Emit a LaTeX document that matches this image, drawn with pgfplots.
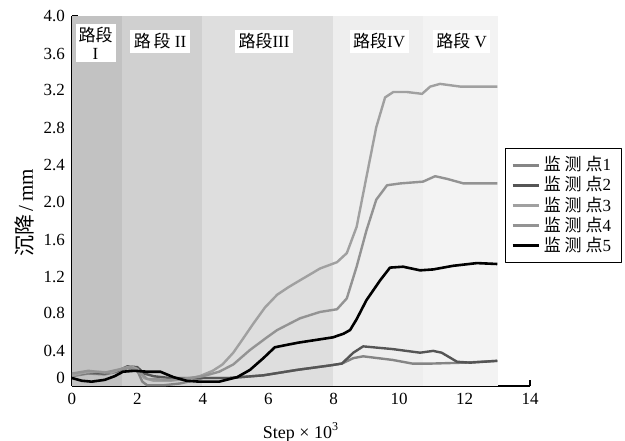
\documentclass[border=0pt]{standalone}
\usepackage{fontspec}
\setmainfont{Liberation Serif}
\newfontfamily\cjk{Noto Sans CJK SC}
\usepackage{pgfplots}
\pgfplotsset{compat=1.18}
\definecolor{bandA}{HTML}{C2C2C2}
\definecolor{bandB}{HTML}{D0D0D0}
\definecolor{bandC}{HTML}{DEDEDE}
\definecolor{bandD}{HTML}{EEEEEE}
\definecolor{bandE}{HTML}{F3F3F3}
\definecolor{cA}{HTML}{858585}
\definecolor{cB}{HTML}{555555}
\definecolor{cC}{HTML}{A0A0A0}
\definecolor{cD}{HTML}{939393}
\begin{document}
\begin{tikzpicture}
\begin{axis}[
  at={(0,0)}, anchor=south west,
  scale only axis, width=229pt, height=185pt,
  xmin=0, xmax=14, ymin=-0.088, ymax=4,
  axis lines=left, axis line style={-, line width=0.6pt},
  tick align=inside, major tick length=3pt,
  tick style={line width=0.6pt, black},
  xtick={0,2,...,14}, xticklabels={0,2,4,6,8,10,12,14},
  ytick={0,0.5,...,4}, yticklabels={,,,,,,,,},
  extra y ticks={0,0.298,0.718,1.116,1.525,1.945,2.35,2.76,3.18,3.58,4.0},
  extra y tick labels={0,0.4,0.8,1.2,1.6,2.0,2.4,2.8,3.2,3.6,4.0},
  extra y tick style={tick style={draw=none}},
  xticklabel style={font=\fontsize{8.5}{10}\selectfont},
  yticklabel style={font=\fontsize{8.5}{10}\selectfont},
  xlabel={Step × 10\textsuperscript{3}},
  xlabel style={font=\fontsize{9}{10}\selectfont, at={(axis description cs:0.5,-0.125)}, anchor=center},
  ylabel={{\cjk 沉降}\,/\,mm},
  ylabel style={font=\fontsize{10.5}{12}\selectfont, at={(axis description cs:-0.103,0.468)}, anchor=center},
  legend style={at={(axis description cs:0.945,0.643)}, anchor=north west, draw=black, line width=0.5pt,
    font=\fontsize{8.5}{9}\selectfont, row sep=-1.6pt, inner xsep=3pt, inner ysep=2.5pt,
    nodes={inner ysep=1.5pt}},
  legend cell align=left,
  legend image code/.code={\draw[#1, line width=1.3pt] (0pt,0pt) -- (13pt,0pt);},
  line join=round,
]
% road-section bands
\addplot[draw=none, fill=bandA, forget plot] coordinates {(0,-0.088) (0,4) (1.53,4) (1.53,-0.088)} -- cycle;
\addplot[draw=none, fill=bandB, forget plot] coordinates {(1.53,-0.088) (1.53,4) (3.98,4) (3.98,-0.088)} -- cycle;
\addplot[draw=none, fill=bandC, forget plot] coordinates {(3.98,-0.088) (3.98,4) (7.98,4) (7.98,-0.088)} -- cycle;
\addplot[draw=none, fill=bandD, forget plot] coordinates {(7.98,-0.088) (7.98,4) (10.73,4) (10.73,-0.088)} -- cycle;
\addplot[draw=none, fill=bandE, forget plot] coordinates {(10.73,-0.088) (10.73,4) (13.03,4) (13.03,-0.088)} -- cycle;

\node[fill=white, inner sep=1.5pt, align=center, font=\fontsize{8.5}{9}\selectfont] at (axis cs:0.72,3.70) {{\cjk 路段}\\I};
\node[fill=white, inner sep=1.8pt, font=\fontsize{8.5}{9}\selectfont] at (axis cs:2.69,3.72) {{\cjk 路\,段} II};
\node[fill=white, inner sep=1.8pt, font=\fontsize{8.5}{9}\selectfont] at (axis cs:5.87,3.72) {{\cjk 路段}III};
\node[fill=white, inner sep=1.8pt, font=\fontsize{8.5}{9}\selectfont] at (axis cs:9.39,3.72) {{\cjk 路段}IV};
\node[fill=white, inner sep=1.8pt, font=\fontsize{8.5}{9}\selectfont] at (axis cs:11.91,3.72) {{\cjk 路段} V};

% 监测点1
\addplot[cA, line width=1.2pt] coordinates {
(0,0.02)(0.5,0.05)(1.0,0.04)(1.4,0.07)(1.7,0.11)(2.0,0.08)(2.15,-0.04)(2.3,-0.08)(2.8,-0.08)(3.3,-0.06)(3.8,-0.02)(4.0,0.0)(4.8,0.0)(5.85,0.03)(6.88,0.09)(7.9,0.14)(8.25,0.16)(8.6,0.22)(8.9,0.24)(9.8,0.2)(10.4,0.16)(11.0,0.16)(12.0,0.17)(13.0,0.19)};
\addlegendentry{\cjk 监 测 点\rmfamily 1}
% 监测点2
\addplot[cB, line width=1.2pt] coordinates {
(0,0.04)(0.5,0.06)(1.0,0.05)(1.4,0.08)(1.7,0.13)(2.0,0.12)(2.2,0.05)(2.5,0.02)(3.0,0.0)(3.5,0.0)(4.0,0.0)(4.8,0.0)(5.85,0.03)(6.88,0.09)(7.9,0.14)(8.25,0.16)(8.6,0.28)(8.9,0.35)(9.8,0.32)(10.64,0.28)(11.04,0.3)(11.3,0.28)(11.77,0.18)(12.17,0.17)(13.0,0.19)};
\addlegendentry{\cjk 监 测 点\rmfamily 2}
% 监测点3
\addplot[cC, line width=1.2pt] coordinates {
(0,0.03)(0.4,0.06)(0.8,0.07)(1.2,0.06)(1.5,0.1)(1.8,0.13)(2.0,0.1)(2.2,0.0)(2.5,-0.03)(3.0,-0.03)(3.5,-0.01)(3.9,0.02)(4.3,0.08)(4.6,0.15)(4.93,0.28)(5.2,0.42)(5.54,0.6)(5.9,0.78)(6.27,0.92)(6.6,1.0)(6.97,1.08)(7.3,1.15)(7.58,1.21)(8.1,1.28)(8.4,1.38)(8.7,1.67)(9.0,2.22)(9.3,2.77)(9.57,3.1)(9.82,3.16)(10.24,3.16)(10.7,3.14)(10.95,3.22)(11.25,3.25)(11.87,3.22)(13.0,3.22)};
\addlegendentry{\cjk 监 测 点\rmfamily 3}
% 监测点4
\addplot[cD, line width=1.2pt] coordinates {
(0,0.05)(0.5,0.08)(1.0,0.06)(1.5,0.1)(1.8,0.12)(2.1,0.05)(2.3,-0.01)(3.0,-0.02)(3.6,0.0)(4.0,0.02)(4.5,0.07)(4.93,0.15)(5.44,0.31)(5.96,0.45)(6.27,0.53)(6.97,0.66)(7.58,0.73)(8.1,0.76)(8.4,0.88)(8.7,1.23)(9.0,1.63)(9.3,1.97)(9.63,2.13)(10.03,2.15)(10.73,2.17)(11.1,2.23)(11.47,2.2)(11.97,2.15)(13.0,2.15)};
\addlegendentry{\cjk 监 测 点\rmfamily 4}
% 监测点5
\addplot[black, line width=1.3pt] coordinates {
(0,0)(0.3,-0.03)(0.6,-0.04)(1.0,-0.02)(1.3,0.02)(1.56,0.07)(1.9,0.08)(2.3,0.07)(2.7,0.07)(3.1,0.01)(3.5,-0.03)(3.9,-0.04)(4.5,-0.04)(5.05,0.01)(5.44,0.09)(5.85,0.22)(6.2,0.34)(6.9,0.39)(7.98,0.45)(8.3,0.49)(8.5,0.53)(8.7,0.65)(9.0,0.86)(9.42,1.08)(9.72,1.22)(10.12,1.23)(10.64,1.19)(11.04,1.2)(11.65,1.24)(12.38,1.27)(13.0,1.26)};
\addlegendentry{\cjk 监 测 点\rmfamily 5}
\end{axis}
\pgfresetboundingbox
\path[use as bounding box] (-36pt,-27pt) rectangle (276.5pt,193pt);
\end{tikzpicture}
\end{document}
